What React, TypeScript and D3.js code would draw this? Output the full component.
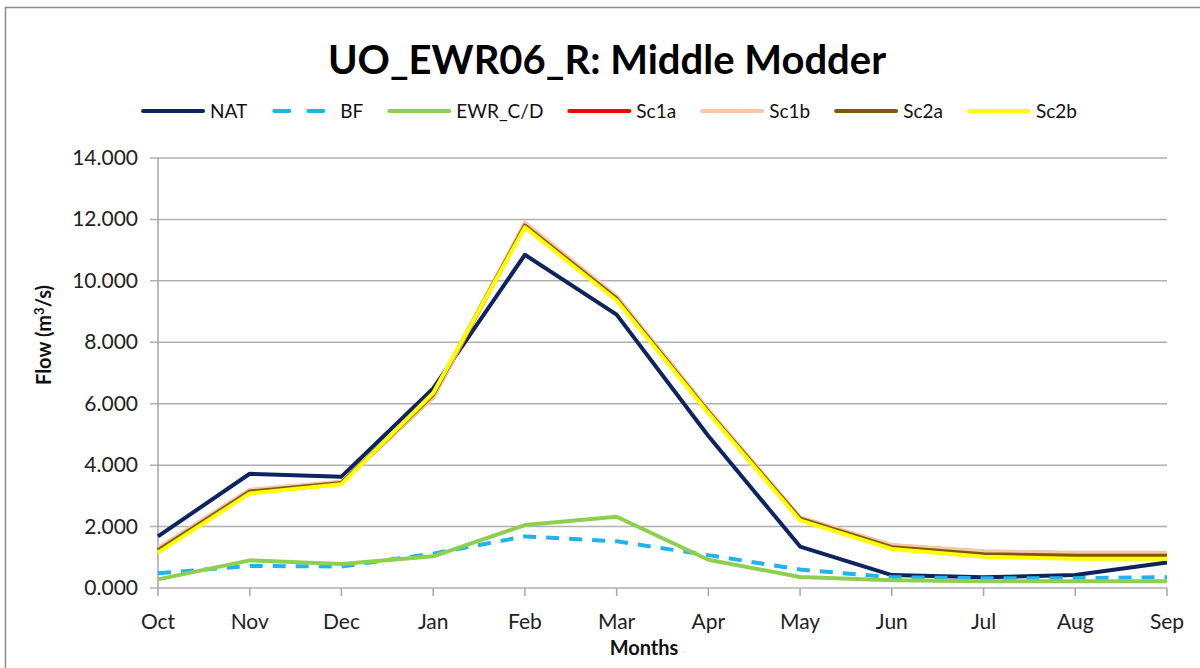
import React, { useEffect, useRef } from "react";
import * as d3 from "d3";

const months = ["Oct", "Nov", "Dec", "Jan", "Feb", "Mar", "Apr", "May", "Jun", "Jul", "Aug", "Sep"];

const NAT = [1.68, 3.72, 3.62, 6.5, 10.85, 8.9, 4.95, 1.35, 0.42, 0.35, 0.42, 0.83];
const BF = [0.48, 0.72, 0.7, 1.12, 1.68, 1.52, 1.07, 0.6, 0.35, 0.32, 0.32, 0.35];
const EWR_CD = [0.28, 0.9, 0.78, 1.03, 2.05, 2.32, 0.92, 0.36, 0.25, 0.22, 0.22, 0.22];
const Sc1a = [1.28, 3.18, 3.44, 6.22, 11.85, 9.45, 5.78, 2.28, 1.38, 1.18, 1.13, 1.12];
const Sc1b = [1.3, 3.2, 3.46, 6.2, 11.9, 9.5, 5.8, 2.3, 1.4, 1.2, 1.15, 1.15];
const Sc2a = [1.22, 3.14, 3.42, 6.3, 11.8, 9.42, 5.74, 2.26, 1.33, 1.1, 1.05, 1.05];
const Sc2b = [1.15, 3.08, 3.38, 6.35, 11.74, 9.36, 5.7, 2.2, 1.27, 1.02, 0.95, 0.95];

const yTicks = [0, 2, 4, 6, 8, 10, 12, 14];

const seriesList = [
  { name: "NAT", values: NAT, color: "#0d2461", dash: null },
  { name: "BF", values: BF, color: "#1fb4ee", dash: "13,10" },
  { name: "EWR_C/D", values: EWR_CD, color: "#8fcf50", dash: null },
  { name: "Sc1a", values: Sc1a, color: "#ff0000", dash: null },
  { name: "Sc1b", values: Sc1b, color: "#f7c8a8", dash: null },
  { name: "Sc2a", values: Sc2a, color: "#7f5a06", dash: null },
  { name: "Sc2b", values: Sc2b, color: "#ffff00", dash: null },
];

const FONT = "Lato, 'Liberation Sans', sans-serif";

export default function App() {
  const ref = useRef<SVGSVGElement>(null);

  useEffect(() => {
    const width = 1200;
    const height = 668;
    const svg = d3.select(ref.current);
    svg.selectAll("*").remove();

    const left = 158, right = 1167, top = 158, bottom = 588;

    const x = d3.scalePoint().domain(months).range([left, right]);
    const y = d3.scaleLinear().domain([0, 14]).range([bottom, top]);

    // chart frame
    svg.append("rect")
      .attr("x", 5.5).attr("y", 7.5)
      .attr("width", width + 10).attr("height", height + 10)
      .attr("fill", "white").attr("stroke", "#8c8c8c").attr("stroke-width", 1.5);

    // gridlines
    svg.append("g")
      .selectAll("line")
      .data(yTicks)
      .join("line")
      .attr("x1", left - 8).attr("x2", right)
      .attr("y1", (d) => y(d)).attr("y2", (d) => y(d))
      .attr("stroke", "#b0b0b0").attr("stroke-width", 1.5);

    // y axis line
    svg.append("line")
      .attr("x1", left).attr("x2", left).attr("y1", top).attr("y2", bottom)
      .attr("stroke", "#a6a6a6").attr("stroke-width", 1.5);

    // x ticks
    svg.append("g")
      .selectAll("line")
      .data(months)
      .join("line")
      .attr("x1", (d) => x(d)!).attr("x2", (d) => x(d)!)
      .attr("y1", bottom).attr("y2", bottom + 8)
      .attr("stroke", "#a6a6a6").attr("stroke-width", 1.5);

    // y labels
    svg.append("g")
      .selectAll("text")
      .data(yTicks)
      .join("text")
      .attr("x", 138).attr("y", (d) => y(d) + 7)
      .attr("text-anchor", "end")
      .style("font", `21px ${FONT}`)
      .attr("fill", "#222")
      .text((d) => d3.format(".3f")(d));

    // x labels
    svg.append("g")
      .selectAll("text")
      .data(months)
      .join("text")
      .attr("x", (d) => x(d)!).attr("y", 629)
      .attr("text-anchor", "middle")
      .style("font", `21px ${FONT}`)
      .attr("fill", "#222")
      .text((d) => d);

    // axis titles
    svg.append("text")
      .attr("x", 644).attr("y", 655)
      .attr("text-anchor", "middle")
      .style("font", `bold 20px ${FONT}`)
      .attr("fill", "#111")
      .text("Months");

    const yt = svg.append("text")
      .attr("transform", "translate(51,335) rotate(-90)")
      .attr("text-anchor", "middle")
      .style("font", `bold 20px ${FONT}`)
      .attr("fill", "#111");
    yt.append("tspan").text("Flow (m");
    yt.append("tspan").attr("dy", -7).style("font-size", "13px").text("3");
    yt.append("tspan").attr("dy", 7).text("/s)");

    // title
    svg.append("text")
      .attr("x", 607).attr("y", 74)
      .attr("text-anchor", "middle")
      .style("font", `bold 40px ${FONT}`)
      .attr("fill", "#000")
      .text("UO_EWR06_R: Middle Modder");

    // lines
    const line = d3.line<number>()
      .x((_, i) => x(months[i])!)
      .y((d) => y(d));

    svg.append("g")
      .selectAll("path")
      .data(seriesList)
      .join("path")
      .attr("d", (d) => line(d.values))
      .attr("fill", "none")
      .attr("stroke", (d) => d.color)
      .attr("stroke-width", 4)
      .attr("stroke-linejoin", "round")
      .attr("stroke-dasharray", (d) => d.dash);

    // legend: line 64px, 6px gap, text, gap to next item
    const gap = 24;
    const lg = svg.append("g");
    let cursor = 0;
    seriesList.forEach((s) => {
      const item = lg.append("g").attr("transform", `translate(${cursor},0)`);
      item.append("line")
        .attr("x1", 2).attr("x2", 62).attr("y1", 0).attr("y2", 0)
        .attr("stroke", s.color)
        .attr("stroke-width", 4)
        .attr("stroke-linecap", "round")
        .attr("stroke-dasharray", s.dash ? "15,19" : null)
        .attr("stroke-dashoffset", s.dash ? -1 : 0);
      const t = item.append("text")
        .attr("x", 69).attr("y", 7)
        .style("font", `19px ${FONT}`)
        .attr("fill", "#111")
        .text(s.name);
      const w = (t.node() as SVGTextElement).getComputedTextLength();
      cursor += 69 + w + gap;
    });
    const total = cursor - gap;
    lg.attr("transform", `translate(${609 - total / 2},111)`);
  }, []);

  return (
    <svg ref={ref} width={1200} height={668}
      style={{ position: "absolute", left: 0, top: 0, background: "white" }} />
  );
}
